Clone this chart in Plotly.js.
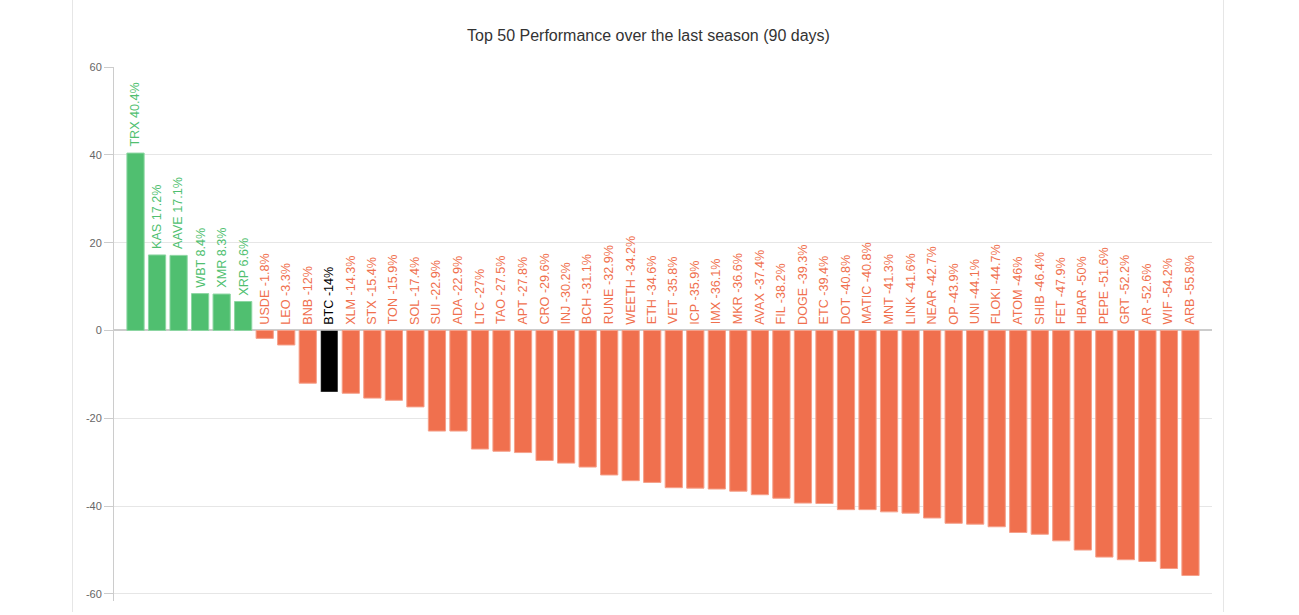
<!DOCTYPE html>
<html>
<head>
<meta charset="utf-8">
<script src="https://cdn.plot.ly/plotly-3.0.1.min.js"></script>
<style>
  html, body { margin: 0; padding: 0; background: #ffffff; }
  #wrap { position: relative; width: 1299px; height: 615px; overflow: hidden; }
  #frame { position: absolute; left: 72px; top: 0; width: 1150px; height: 612px;
           border-left: 1px solid #e6e6e6; border-right: 1px solid #e6e6e6; pointer-events: none; }
  #chart { position: absolute; left: 0; top: 0; width: 1299px; height: 615px; }
</style>
</head>
<body>
<div id="wrap">
  <div id="chart"></div>
  <div id="frame"></div>
</div>
<script>
const symbols = ["TRX","KAS","AAVE","WBT","XMR","XRP","USDE","LEO","BNB","BTC",
  "XLM","STX","TON","SOL","SUI","ADA","LTC","TAO","APT","CRO",
  "INJ","BCH","RUNE","WEETH","ETH","VET","ICP","IMX","MKR","AVAX",
  "FIL","DOGE","ETC","DOT","MATIC","MNT","LINK","NEAR","OP","UNI",
  "FLOKI","ATOM","SHIB","FET","HBAR","PEPE","GRT","AR","WIF","ARB"];
const performance = [40.4,17.2,17.1,8.4,8.3,6.6,-1.8,-3.3,-12,-14,
  -14.3,-15.4,-15.9,-17.4,-22.9,-22.9,-27,-27.5,-27.8,-29.6,
  -30.2,-31.1,-32.9,-34.2,-34.6,-35.8,-35.9,-36.1,-36.6,-37.4,
  -38.2,-39.3,-39.4,-40.8,-40.8,-41.3,-41.6,-42.7,-43.9,-44.1,
  -44.7,-46,-46.4,-47.9,-50,-51.6,-52.2,-52.6,-54.2,-55.8];
const highlight = "BTC";
const yTickValues = [60,40,20,0,-20,-40,-60];
const yTickLabels = ["60","40","20","0","-20","-40","-60"];

const GREEN = "#50bf70", RED = "#f0704e", BLACK = "#000000";
const colorFor = (s, v) => s === highlight ? BLACK : (v >= 0 ? GREEN : RED);
const barColors = symbols.map((s, i) => colorFor(s, performance[i]));
const lineColors = symbols.map((s, i) => s === highlight ? "rgba(255,255,255,0.35)" :
  (performance[i] >= 0 ? "rgba(140,214,162,1)" : "rgba(245,160,138,1)"));

const trace = {
  type: "bar",
  x: symbols,
  y: performance,
  width: 0.8,
  marker: { color: barColors, line: { color: lineColors, width: 1 } },
  hoverinfo: "x+y"
};

const annotations = symbols.map((s, i) => ({
  x: s,
  y: Math.max(performance[i], 0),
  xref: "x", yref: "y",
  text: s + " " + performance[i] + "%",
  showarrow: false,
  textangle: -90,
  xanchor: "center",
  yanchor: "bottom",
  yshift: 4,
  font: { family: "Liberation Sans, Arial, sans-serif", size: 12.6, color: barColors[i] }
}));

const layout = {
  width: 1299, height: 615,
  margin: { l: 114, r: 87, t: 67, b: 14, pad: 0 },
  paper_bgcolor: "rgba(0,0,0,0)",
  plot_bgcolor: "rgba(0,0,0,0)",
  font: { family: "Liberation Sans, Arial, sans-serif" },
  title: {
    text: "Top 50 Performance over the last season (90 days)",
    font: { family: "Liberation Sans, Arial, sans-serif", size: 16, color: "#333333" },
    xref: "container", yref: "container",
    x: 0.4992, xanchor: "center",
    y: 0.943, yanchor: "middle"
  },
  showlegend: false,
  bargap: 0.2,
  xaxis: {
    type: "category",
    range: [-1, 50],
    showticklabels: false,
    showgrid: false,
    zeroline: false,
    showline: false,
    ticks: ""
  },
  yaxis: {
    range: [-61.6, 60],
    tickvals: yTickValues,
    ticktext: yTickLabels,
    tickfont: { size: 11, color: "#666666" },
    ticks: "outside",
    ticklen: 9,
    tickcolor: "#cccccc",
    showline: true,
    linecolor: "#cccccc",
    linewidth: 1,
    showgrid: true,
    gridcolor: "#e6e6e6",
    gridwidth: 1,
    zeroline: true,
    zerolinecolor: "#cccccc",
    zerolinewidth: 2
  },
  annotations: annotations
};

Plotly.newPlot("chart", [trace], layout, { displayModeBar: false, responsive: false });
</script>
</body>
</html>
